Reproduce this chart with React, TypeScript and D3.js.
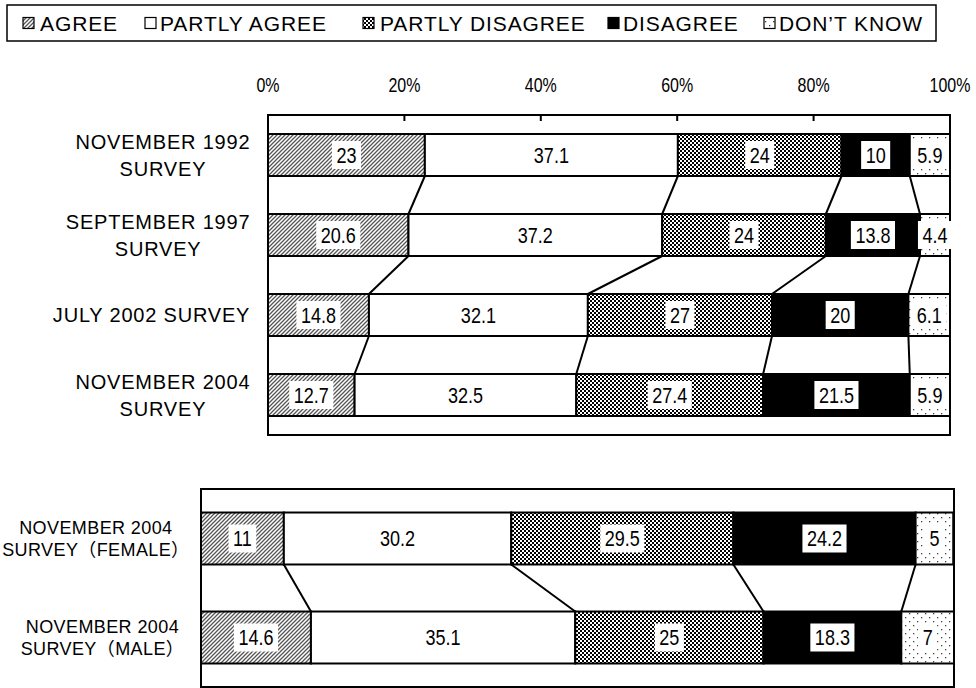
import React from 'react';
import * as d3 from 'd3';

const seriesNames = ['AGREE', 'PARTLY AGREE', 'PARTLY DISAGREE', 'DISAGREE', 'DON’T KNOW'];
const topCategories = [
  ['NOVEMBER 1992', 'SURVEY'],
  ['SEPTEMBER 1997', 'SURVEY'],
  ['JULY 2002 SURVEY'],
  ['NOVEMBER 2004', 'SURVEY'],
];
const topValues = [
  [23, 37.1, 24, 10, 5.9],
  [20.6, 37.2, 24, 13.8, 4.4],
  [14.8, 32.1, 27, 20, 6.1],
  [12.7, 32.5, 27.4, 21.5, 5.9],
];
const bottomCategories = [
  ['NOVEMBER 2004', 'SURVEY（FEMALE）'],
  ['NOVEMBER 2004', 'SURVEY（MALE）'],
];
const bottomValues = [
  [11, 30.2, 29.5, 24.2, 5],
  [14.6, 35.1, 25, 18.3, 7],
];
const axisTicks = [0, 20, 40, 60, 80, 100];

const W = 976;
const H = 688;
const fills = ['url(#pAgree)', '#ffffff', 'url(#pPdis)', '#000000', 'url(#pDk)'];
const LBL_FONT = "Arial, 'Liberation Sans', 'Noto Sans CJK JP', sans-serif";
const NARROW = 0.82;

let ctx: CanvasRenderingContext2D | null = null;
function measure(text: string, size: number, ls = 0) {
  if (!ctx) ctx = document.createElement('canvas').getContext('2d');
  const wide = Array.from(text).filter((c) => c.charCodeAt(0) >= 0x3000).length;
  const narrowText = Array.from(text).filter((c) => c.charCodeAt(0) < 0x3000).join('');
  let w = narrowText.length * size * 0.6;
  if (ctx) {
    ctx.font = `${size}px ${LBL_FONT}`;
    w = ctx.measureText(narrowText).width;
  }
  return w + wide * size + ls * text.length;
}

type PanelProps = {
  cats: string[][];
  vals: number[][];
  x0: number; x1: number; y0: number; y1: number;
  labelRight: number; labelSize: number; lineGap: number; ls: number;
  showAxis: boolean;
};

function Narrow({ x, y, size, children }: { x: number; y: number; size: number; children: string }) {
  return (
    <text transform={`translate(${x},${y}) scale(${NARROW},1)`} dy="0.36em" textAnchor="middle"
      fontFamily={LBL_FONT} fontSize={size}>{children}</text>
  );
}

function Panel({ cats, vals, x0, x1, y0, y1, labelRight, labelSize, lineGap, ls, showAxis }: PanelProps) {
  const x = d3.scaleLinear().domain([0, 100]).range([x0, x1]);
  const y = d3.scaleBand<number>().domain(d3.range(cats.length)).range([y0, y1]).paddingInner(0.475).paddingOuter(0.2375);
  const bh = y.bandwidth();
  const rows = vals.map((v) => {
    const cum = d3.cumsum(v);
    return v.map((d, i) => ({ v: d, s: i === 0 ? 0 : cum[i - 1], e: cum[i] }));
  });
  return (
    <g>
      <rect x={x0} y={y0} width={x1 - x0} height={y1 - y0} fill="#fff" stroke="#000" strokeWidth={2} />
      {showAxis && axisTicks.map((t) => (
        <g key={t}>
          {t > 0 && t < 100 && <line x1={x(t)} x2={x(t)} y1={y0} y2={y0 + 6} stroke="#000" strokeWidth={2} />}
          <Narrow x={x(t)} y={85} size={19.5}>{`${t}%`}</Narrow>
        </g>
      ))}
      {rows.slice(0, -1).map((r, ri) =>
        r.slice(0, -1).map((seg, si) => (
          <line key={`c${ri}-${si}`} x1={x(seg.e)} y1={(y(ri) as number) + bh} x2={x(rows[ri + 1][si].e)} y2={y(ri + 1) as number} stroke="#000" strokeWidth={2} />
        ))
      )}
      {rows.map((r, ri) => (
        <g key={`r${ri}`}>
          {r.map((seg, si) => (
            <rect key={si} x={x(seg.s)} y={y(ri)} width={x(seg.e) - x(seg.s)} height={bh} fill={fills[si]} stroke="#000" strokeWidth={2} />
          ))}
          {r.map((seg, si) => {
            const cx = (x(seg.s) + x(seg.e)) / 2;
            const cy = (y(ri) as number) + bh / 2;
            const label = String(seg.v);
            const tw = measure(label, 22) * NARROW;
            const bw = tw + 9;
            return (
              <g key={`l${si}`}>
                <rect x={cx - bw / 2} y={cy - 14} width={bw} height={28} fill="#fff" />
                <Narrow x={cx} y={cy} size={22}>{label}</Narrow>
              </g>
            );
          })}
        </g>
      ))}
      {cats.map((lines, ci) => {
        const mw = Math.max(...lines.map((l) => measure(l, labelSize, ls)));
        const cx = Math.max(labelRight - mw / 2, mw / 2 + 2);
        const cy = (y(ci) as number) + bh / 2;
        return lines.map((l, li) => (
          <text key={`${ci}-${li}`} x={cx + ls / 2} y={cy + (li - (lines.length - 1) / 2) * lineGap} dy="0.36em"
            textAnchor="middle" fontFamily={LBL_FONT} fontSize={labelSize} letterSpacing={ls}>{l}</text>
        ));
      })}
    </g>
  );
}

const legendSymX = [23, 145, 363, 608, 764];
const legendTextX = [40, 160, 380, 623, 779];

export default function App() {
  return (
    <svg width={W} height={H} viewBox={`0 0 ${W} ${H}`} style={{ position: 'absolute', left: 0, top: 0, background: '#fff' }}>
      <defs>
        <pattern id="pAgree" width={4} height={4} patternUnits="userSpaceOnUse">
          <rect width={4} height={4} fill="#fff" />
          <path d="M-1,1 l2,-2 M0,4 l4,-4 M3,5 l2,-2" stroke="#555" strokeWidth={1.3} />
        </pattern>
        <pattern id="pPdis" width={4} height={4} patternUnits="userSpaceOnUse">
          <rect width={4} height={4} fill="#000" />
          <rect x={0} y={0} width={2} height={2} fill="#fff" />
          <rect x={2} y={2} width={2} height={2} fill="#fff" />
        </pattern>
        <pattern id="pDk" width={8} height={8} patternUnits="userSpaceOnUse">
          <rect width={8} height={8} fill="#fff" />
          <rect x={1} y={1} width={1.3} height={1.3} fill="#444" />
          <rect x={5} y={5} width={1.3} height={1.3} fill="#444" />
        </pattern>
      </defs>
      <rect x={7} y={5} width={929} height={36} fill="#fff" stroke="#000" strokeWidth={1.5} />
      {seriesNames.map((n, i) => (
        <g key={n}>
          <rect x={legendSymX[i]} y={17.5} width={11} height={11} fill={fills[i]} stroke="#000" strokeWidth={1.2} />
          <text x={legendTextX[i]} y={23} dy="0.36em" fontFamily={LBL_FONT} fontSize={21} letterSpacing={0.9}>{n}</text>
        </g>
      ))}
      <Panel cats={topCategories} vals={topValues} x0={268} x1={950} y0={115} y1={435}
        labelRight={250} labelSize={20} lineGap={27} ls={0.8} showAxis={true} />
      <Panel cats={bottomCategories} vals={bottomValues} x0={201} x1={954} y0={489} y1={687}
        labelRight={184} labelSize={18} lineGap={22} ls={0.4} showAxis={false} />
    </svg>
  );
}
